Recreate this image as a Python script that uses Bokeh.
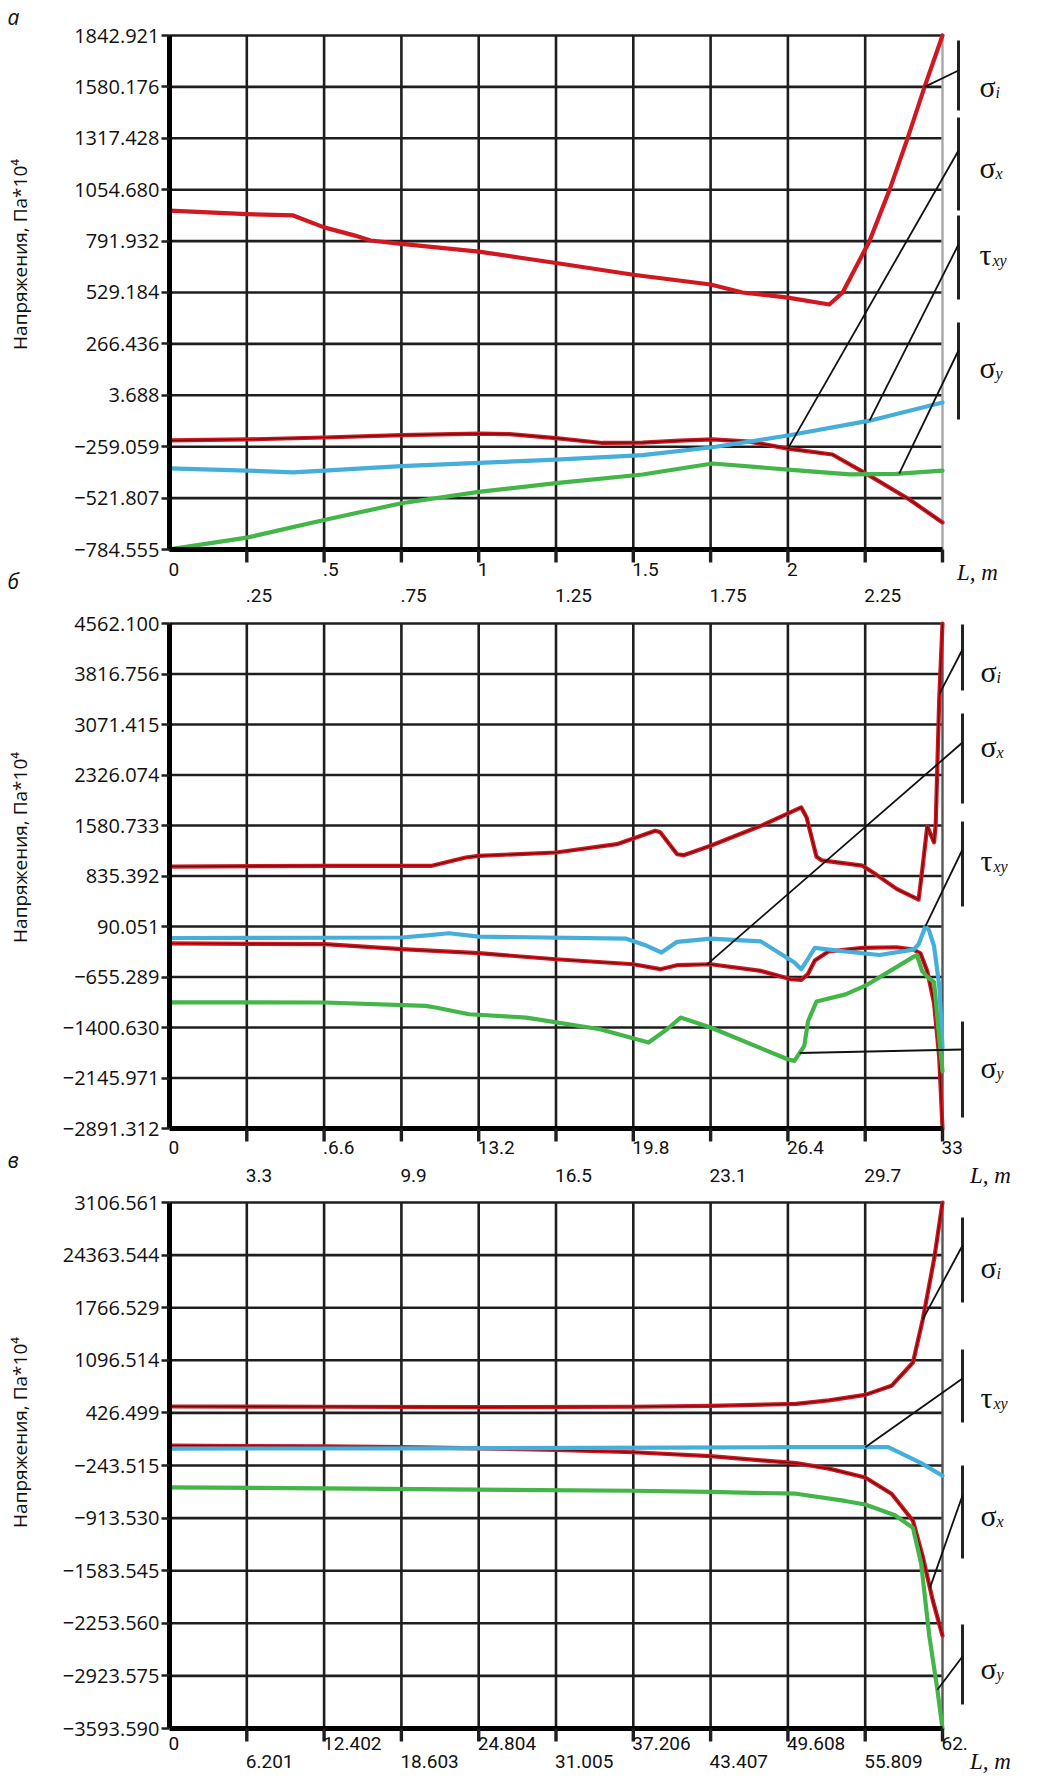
import math
import numpy as np
from bokeh.plotting import figure
from bokeh.models import Range1d, FixedTicker, LinearAxis
from bokeh.layouts import column
from bokeh.embed import file_html
from bokeh.resources import INLINE
from bokeh.core.properties import value

# ------------------------------------------------------------------ panel а
a_xmax = 2.5
a_xticks = [0, 0.25, 0.5, 0.75, 1.0, 1.25, 1.5, 1.75, 2.0, 2.25, 2.5]
a_yticks = [1842.921, 1580.176, 1317.428, 1054.680, 791.932, 529.184, 266.436, 3.688, -259.059, -521.807, -784.555]
a_ylabels = ["1842.921", "1580.176", "1317.428", "1054.680", "791.932", "529.184", "266.436", "3.688",
             "−259.059", "−521.807", "−784.555"]
a_row1_vals = [0, 0.5, 1.0, 1.5, 2.0]
a_row1_text = ["0", ".5", "1", "1.5", "2"]
a_row2_vals = [0.25, 0.75, 1.25, 1.75, 2.25]
a_row2_text = [".25", ".75", "1.25", "1.75", "2.25"]

a_si_x = [0, 0.25, 0.4, 0.5, 0.6, 0.65, 0.75, 1.0, 1.25, 1.5, 1.75, 1.853, 2.0, 2.134, 2.177, 2.264, 2.329, 2.387, 2.442, 2.5]
a_si_y = [948, 930, 923, 862, 820, 795, 778, 738, 680, 620, 570, 529, 503, 468, 529, 792, 1055, 1317, 1580, 1843]
a_sx_x = [0, 0.25, 0.5, 0.75, 1.0, 1.1, 1.25, 1.4, 1.53, 1.65, 1.756, 1.876, 2.0, 2.144, 2.264, 2.393, 2.5]
a_sx_y = [-227, -222, -212, -200, -192, -195, -215, -240, -238, -228, -222, -233, -269, -299, -407, -529, -647]
a_txy_x = [0, 0.25, 0.4, 0.5, 0.75, 1.0, 1.25, 1.53, 1.756, 2.0, 2.264, 2.5]
a_txy_y = [-370, -381, -390, -381, -358, -342, -325, -302, -262, -202, -126, -33]
a_sy_x = [0, 0.25, 0.5, 0.75, 1.0, 1.25, 1.53, 1.756, 2.0, 2.2, 2.35, 2.5]
a_sy_y = [-784, -724, -634, -548, -490, -445, -401, -345, -376, -401, -398, -381]

# ------------------------------------------------------------------ panel б
b_xmax = 33.0
b_xticks = [0, 3.3, 6.6, 9.9, 13.2, 16.5, 19.8, 23.1, 26.4, 29.7, 33.0]
b_yticks = [4562.100, 3816.756, 3071.415, 2326.074, 1580.733, 835.392, 90.051, -655.289, -1400.630, -2145.971, -2891.312]
b_ylabels = ["4562.100", "3816.756", "3071.415", "2326.074", "1580.733", "835.392", "90.051",
             "−655.289", "−1400.630", "−2145.971", "−2891.312"]
b_row1_vals = [0, 6.6, 13.2, 19.8, 26.4, 33.0]
b_row1_text = ["0", ".6.6", "13.2", "19.8", "26.4", "33"]
b_row2_vals = [3.3, 9.9, 16.5, 23.1, 29.7]
b_row2_text = ["3.3", "9.9", "16.5", "23.1", "29.7"]

b_si_x = [0, 6.64, 11.2, 12.65, 13.2, 16.5, 19.1, 20.74, 20.95, 21.67, 21.95, 23.1, 25.25, 26.97, 27.2,
          27.62, 27.84, 29.58, 30.17, 31.04, 31.98, 32.13, 32.35, 32.64, 32.71, 32.86, 33.0]
b_si_y = [975, 986, 986, 1108, 1133, 1182, 1305, 1502, 1480, 1157, 1143, 1281, 1576, 1847, 1700,
          1120, 1067, 988, 856, 645, 487, 909, 1569, 1331, 1595, 3443, 4562]
b_sx_x = [0, 3.3, 6.64, 9.9, 13.2, 16.5, 19.8, 20.95, 21.67, 23.1, 25.25, 26.53, 26.97, 27.25, 27.55, 28.13,
          29.58, 31.04, 31.76, 32.06, 32.35, 32.64, 32.86, 33.0]
b_sx_y = [-160, -165, -171, -245, -304, -393, -467, -540, -481, -467, -566, -688, -698, -614, -411, -279,
          -226, -216, -252, -305, -569, -1044, -1836, -2891]
b_txy_x = [0, 9.9, 11.0, 11.93, 13.2, 19.5, 20.38, 21.0, 21.67, 23.1, 25.25, 26.68, 26.97, 27.25, 27.55,
           28.86, 30.31, 31.76, 31.98, 32.27, 32.42, 32.64, 32.86, 32.96, 33.0]
b_txy_y = [-80, -72, -40, -10, -59, -90, -195, -294, -136, -90, -130, -441, -540, -392, -226,
           -279, -331, -252, -173, 91, 38, -200, -780, -1400, -1700]
b_sy_x = [0, 6.64, 10.93, 11.36, 12.79, 15.23, 18.38, 20.45, 21.24, 21.82, 23.1, 26.39, 26.68, 27.1, 27.26,
          27.62, 28.86, 29.73, 30.75, 31.76, 31.91, 32.13, 32.42, 32.64, 32.86, 33.0]
b_sy_y = [-1030, -1032, -1081, -1106, -1205, -1254, -1426, -1623, -1426, -1254, -1401, -1869, -1893, -1672, -1308,
          -1018, -912, -780, -569, -358, -331, -569, -675, -727, -1572, -2047]

# ------------------------------------------------------------------ panel в
c_xmax = 62.01
c_xticks = [0, 6.201, 12.402, 18.603, 24.804, 31.005, 37.206, 43.407, 49.608, 55.809, 62.01]
c_yticks = [3106.561, 2436.546, 1766.529, 1096.514, 426.499, -243.515, -913.530, -1583.545, -2253.560, -2923.575, -3593.590]
c_ylabels = ["3106.561", "24363.544", "1766.529", "1096.514", "426.499", "−243.515", "−913.530",
             "−1583.545", "−2253.560", "−2923.575", "−3593.590"]
c_row1_vals = [0, 12.402, 24.804, 37.206, 49.608, 62.01]
c_row1_text = ["0", "12.402", "24.804", "37.206", "49.608", "62."]
c_row2_vals = [6.201, 18.603, 31.005, 43.407, 55.809]
c_row2_text = ["6.201", "18.603", "31.005", "43.407", "55.809"]

c_si_x = [0, 12.4, 24.8, 37.2, 43.4, 50.27, 52.9, 55.81, 57.92, 59.64, 60.43, 61.35, 62.01]
c_si_y = [508, 505, 500, 505, 515, 541, 587, 656, 771, 1068, 1618, 2397, 3106.561]
c_sx_x = [0, 6.2, 12.4, 18.6, 24.8, 31.0, 37.2, 43.4, 50.27, 52.9, 55.81, 57.92, 59.64, 60.43, 61.22, 62.01]
c_sx_y = [10, 5, 0, -10, -25, -45, -75, -125, -214, -283, -397, -603, -947, -1405, -1955, -2412]
c_txy_x = [0, 20, 40, 50, 57.66, 60.3, 62.01]
c_txy_y = [-28, -25, -15, -10, -10, -214, -374]
c_sy_x = [0, 12.4, 24.8, 37.2, 43.4, 50.27, 54.2, 55.81, 58.2, 59.64, 60.3, 60.95, 61.6, 62.01]
c_sy_y = [-521, -535, -550, -565, -580, -603, -695, -741, -878, -1038, -1496, -2412, -3100, -3594]

# ------------------------------------------------------------------ styling / layout
RED, BLUE, GREEN = "#cf1820", "#45aedb", "#44b548"
GRID = "#1e1e1e"
INK = "#111111"
TICK_FONT = "Roboto"
YLAB_FONT = "Open Sans"
SERIF = "Liberation Serif"
FIG_W = 1031
PAGE_L = 8
X0 = 177          # page x of data x = 0
DATA_W = 773      # page px from x = 0 to x = xmax


def build(spec):
    xmax = spec["xmax"]
    yt = spec["yticks"]
    xt = spec["xticks"]
    ymax, ymin = yt[0], yt[-1]
    H = spec["frame_h"]
    top = spec["frame_top"]
    bottom = top + H
    span = ymax - ymin

    def px2x(px):
        return (px - X0) / DATA_W * xmax

    def py2y(py):
        return ymax - (py - top) / H * span

    f0, f1 = spec["fig_top"], spec["fig_top"] + spec["fig_h"]
    p = figure(width=FIG_W, height=spec["fig_h"],
               x_range=Range1d(px2x(PAGE_L), px2x(PAGE_L + FIG_W)),
               y_range=Range1d(py2y(f1), py2y(f0)), x_axis_type=None, y_axis_type=None,
               toolbar_location=None, output_backend="svg",
               min_border_left=0, min_border_right=0, min_border_top=0, min_border_bottom=0)
    p.outline_line_color = None

    # grid
    vx = xt[1:-1]
    p.segment(x0=vx, y0=[ymin] * len(vx), x1=vx, y1=[ymax] * len(vx), line_color=GRID, line_width=2.6)
    hy = yt[:-1]
    p.segment(x0=[0] * len(hy), y0=hy, x1=[xmax] * len(hy), y1=hy, line_color=GRID, line_width=2.6)
    p.segment(x0=[xmax], y0=[ymin], x1=[xmax], y1=[ymax], line_color=spec["edge"], line_width=2.4)

    # curves
    for xs, ys, col, core in spec["series"]:
        p.line(xs, ys, line_color=col, line_width=4.2, line_join="round", line_cap="round")
        if core:
            p.line(xs, ys, line_color="#3a0000", line_width=1.1, line_alpha=0.7)

    # bottom axis line and its ticks
    p.segment(x0=[0], y0=[ymin], x1=[xmax], y1=[ymin], line_color="black", line_width=5)
    tx = xt[1:]
    p.segment(x0=tx, y0=[ymin] * len(tx), x1=tx, y1=[py2y(bottom + 13)] * len(tx),
              line_color=GRID, line_width=3.4)

    # left axis with the y tick labels
    yax = LinearAxis(ticker=FixedTicker(ticks=yt), major_label_overrides=dict(zip(yt, spec["ylabels"])),
                     fixed_location=0, bounds=(ymin, ymax), axis_line_width=5, axis_line_color="black",
                     major_tick_out=8, major_tick_in=0, major_tick_line_width=2.6, major_tick_line_color=GRID,
                     minor_tick_out=0, minor_tick_in=0, major_label_standoff=2,
                     major_label_text_font=YLAB_FONT, major_label_text_font_size="20px",
                     major_label_text_color=INK)
    p.add_layout(yax, "left")

    # legend bars, leaders, names
    bx = px2x(spec["bar_px"])
    lx = px2x(spec["lab_px"])
    for main, sub, key, cx, btop, bbot, lead_py, base_py in spec["notes"]:
        xs, ys = spec["lookup"][key]
        cy = float(np.interp(cx, xs, ys))
        p.segment(x0=[bx], y0=[py2y(btop)], x1=[bx], y1=[py2y(bbot)], line_color="#222222", line_width=3)
        p.segment(x0=[bx], y0=[py2y(lead_py)], x1=[cx], y1=[cy], line_color=INK, line_width=1.8)
        p.text(x=[lx], y=[py2y(base_py)], text=[main], text_font=value(SERIF), text_font_size="30px",
               text_align="left", text_baseline="alphabetic", text_color=INK)
        shift = 16 if main == "σ" else 13
        p.text(x=[px2x(spec["lab_px"] + shift)], y=[py2y(base_py + 6)], text=[sub], text_font=value(SERIF),
               text_font_style="italic", text_font_size="16px", text_align="left",
               text_baseline="alphabetic", text_color=INK)

    # tick label rows (left-aligned at their tick, as in the reference)
    for vals, texts, off in ((spec["r1v"], spec["r1t"], spec["r1o"]), (spec["r2v"], spec["r2t"], spec["r2o"])):
        p.text(x=vals, y=[py2y(bottom + off)] * len(vals), text=texts, text_align="left",
               text_baseline="middle", text_font=value(TICK_FONT), text_font_size="19px",
               text_color=INK, x_offset=-1)

    p.text(x=[px2x(spec["L_px"][0])], y=[py2y(spec["L_px"][1])], text=["L, m"], text_font=value(SERIF),
           text_font_style="italic", text_font_size="23px", text_align="center",
           text_baseline="middle", text_color=INK)
    p.text(x=[px2x(27)], y=[py2y(spec["ylab_py"])], text=["Напряжения, Па*10⁴"], angle=math.pi / 2,
           text_font=value(YLAB_FONT), text_font_size="19px", text_align="center",
           text_baseline="middle", text_color=INK)
    for letter, lpy in spec["letters"]:
        p.text(x=[px2x(15)], y=[py2y(lpy)], text=[letter], text_font=value(YLAB_FONT),
               text_font_style="italic", text_font_size="21px", text_align="left",
               text_baseline="middle", text_color=INK)
    return p


spec_a = dict(
    xmax=a_xmax, xticks=a_xticks, yticks=a_yticks, ylabels=a_ylabels,
    fig_top=8, fig_h=610, frame_top=43, frame_h=514, edge="#a8a8a8",
    series=[(a_si_x, a_si_y, RED, False), (a_sx_x, a_sx_y, RED, True),
            (a_txy_x, a_txy_y, BLUE, False), (a_sy_x, a_sy_y, GREEN, False)],
    lookup=dict(si=(a_si_x, a_si_y), sx=(a_sx_x, a_sx_y), txy=(a_txy_x, a_txy_y), sy=(a_sy_x, a_sy_y)),
    bar_px=966, lab_px=987,
    notes=[("σ", "i", "si", 2.442, 48, 118, 78, 94),
           ("σ", "x", "sx", 2.0, 125, 218, 158, 175),
           ("τ", "xy", "txy", 2.264, 223, 307, 252, 262),
           ("σ", "y", "sy", 2.36, 330, 427, 358, 375)],
    r1v=a_row1_vals, r1t=a_row1_text, r1o=20, r2v=a_row2_vals, r2t=a_row2_text, r2o=46,
    L_px=(985, 580), ylab_py=262, letters=[("а", 24), ("б", 588)],
)
spec_b = dict(
    xmax=b_xmax, xticks=b_xticks, yticks=b_yticks, ylabels=b_ylabels,
    fig_top=618, fig_h=580, frame_top=631, frame_h=505, edge="#555555",
    series=[(b_si_x, b_si_y, RED, True), (b_sx_x, b_sx_y, RED, True),
            (b_txy_x, b_txy_y, BLUE, False), (b_sy_x, b_sy_y, GREEN, False)],
    lookup=dict(si=(b_si_x, b_si_y), sx=(b_sx_x, b_sx_y), txy=(b_txy_x, b_txy_y), sy=(b_sy_x, b_sy_y)),
    bar_px=970, lab_px=988,
    notes=[("σ", "i", "si", 32.87, 632, 698, 657, 679),
           ("σ", "x", "sx", 22.95, 721, 811, 750, 754),
           ("τ", "xy", "txy", 32.27, 829, 914, 857, 868),
           ("σ", "y", "sy", 26.9, 1029, 1125, 1057, 1075)],
    r1v=b_row1_vals, r1t=b_row1_text, r1o=19, r2v=b_row2_vals, r2t=b_row2_text, r2o=47,
    L_px=(998, 1183), ylab_py=855, letters=[("в", 1167)],
)
spec_c = dict(
    xmax=c_xmax, xticks=c_xticks, yticks=c_yticks, ylabels=c_ylabels,
    fig_top=1198, fig_h=584, frame_top=1210, frame_h=526, edge="#555555",
    series=[(c_si_x, c_si_y, RED, True), (c_sx_x, c_sx_y, RED, True),
            (c_txy_x, c_txy_y, BLUE, False), (c_sy_x, c_sy_y, GREEN, False)],
    lookup=dict(si=(c_si_x, c_si_y), sx=(c_sx_x, c_sx_y), txy=(c_txy_x, c_txy_y), sy=(c_sy_x, c_sy_y)),
    bar_px=970, lab_px=988,
    notes=[("σ", "i", "si", 60.43, 1225, 1310, 1253, 1275),
           ("τ", "xy", "txy", 55.81, 1357, 1430, 1386, 1405),
           ("σ", "x", "sx", 61.0, 1473, 1566, 1503, 1523),
           ("σ", "y", "sy", 61.6, 1632, 1712, 1664, 1676)],
    r1v=c_row1_vals, r1t=c_row1_text, r1o=15, r2v=c_row2_vals, r2t=c_row2_text, r2o=33,
    L_px=(998, 1769), ylab_py=1440, letters=[],
)

layout = column(build(spec_a), build(spec_b), build(spec_c))
open("out.html", "w").write(file_html(layout, INLINE))
